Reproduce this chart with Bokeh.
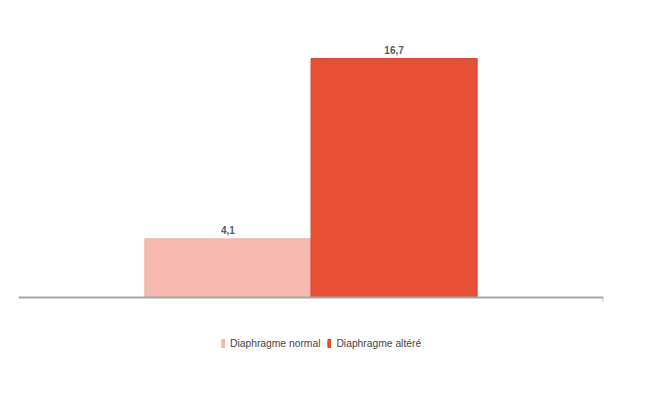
from bokeh.plotting import figure
from bokeh.models import ColumnDataSource, Legend, LegendItem, Range1d, Span
from bokeh.embed import file_html
from bokeh.resources import INLINE

categories = ["Diaphragme normal", "Diaphragme altéré"]
values = [4.1, 16.7]
value_labels = ["4,1", "16,7"]
colors = ["#f7bab0", "#e85036"]
edge_colors = ["#f4aea2", "#df4529"]

BAR_W = 0.284
xs = [0.5 + (i - (len(categories) - 1) / 2) * BAR_W for i in range(len(categories))]

FONT = "Liberation Sans"

p = figure(width=646, height=386, output_backend="svg", toolbar_location=None,
           x_range=Range1d(0, 1), y_range=Range1d(-6.22, 19.5),
           x_axis_location=None, y_axis_location=None,
           min_border_left=18, min_border_right=43, min_border_top=18, min_border_bottom=0)
p.outline_line_color = None
p.xgrid.visible = False
p.ygrid.visible = False

renderers = []
for i, c in enumerate(categories):
    view_src = ColumnDataSource(dict(x=[xs[i]], top=[values[i]], lab=[value_labels[i]]))
    r = p.vbar(x="x", top="top", width=BAR_W, bottom=0, source=view_src,
               fill_color=colors[i], line_color=edge_colors[i], line_width=1)
    renderers.append(r)
    p.text(x="x", y="top", text="lab", source=view_src, text_align="center",
           text_baseline="bottom", y_offset=-5, text_font_size="10px",
           text_font_style="bold", text_color="#5a5a5a",
           text_font={"value": FONT})

# baseline axis line and its end tick
p.add_layout(Span(location=0, dimension="width", line_color="#aaa4a4", line_width=2))
p.segment(x0=[1.0], y0=[0], x1=[1.0], y1=[-0.3], line_color="#c8c4c4", line_width=2)

legend = Legend(items=[LegendItem(label=c, renderers=[r]) for c, r in zip(categories, renderers)],
                orientation="horizontal", location=(203, 36),
                glyph_width=4, glyph_height=10, label_standoff=5, spacing=7,
                padding=0, margin=0, border_line_color=None, background_fill_alpha=0,
                label_text_font=FONT, label_text_font_size="10.3px", label_text_color="#444444",
                label_height=14)
p.add_layout(legend, "center")

open("out.html", "w").write(file_html(p, INLINE))
